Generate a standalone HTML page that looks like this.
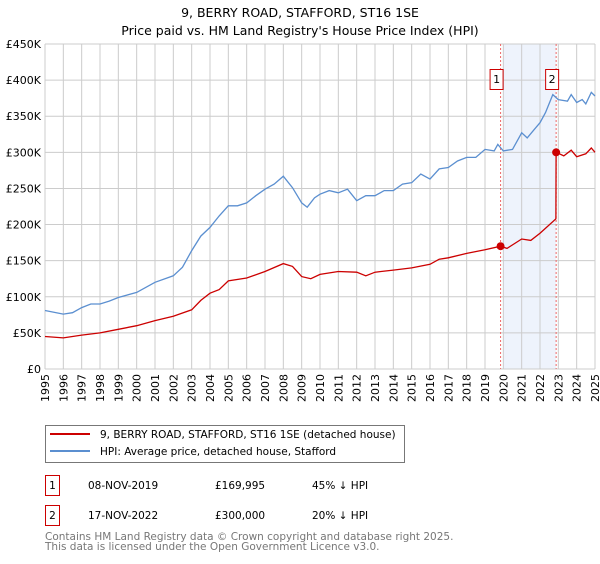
<!DOCTYPE html>
<html><head><meta charset="utf-8"><style>
body{margin:0;background:#fff;font-family:"DejaVu Sans","Liberation Sans",sans-serif;}
svg text{font-family:"DejaVu Sans","Liberation Sans",sans-serif;}
</style></head><body>
<svg width="600" height="560" viewBox="0 0 600 560" xmlns="http://www.w3.org/2000/svg">
<text x="300" y="17" text-anchor="middle" font-size="12.5">9, BERRY ROAD, STAFFORD, ST16 1SE</text>
<text x="300" y="35" text-anchor="middle" font-size="12.5">Price paid vs. HM Land Registry's House Price Index (HPI)</text>
<g id="plot"></g>
<g>
<rect x="45.5" y="425.5" width="359" height="37" fill="#fff" stroke="#777"/>
<line x1="50" y1="434" x2="90" y2="434" stroke="#cc0000" stroke-width="2"/>
<text x="100" y="438" font-size="10.5">9, BERRY ROAD, STAFFORD, ST16 1SE (detached house)</text>
<line x1="50" y1="451" x2="90" y2="451" stroke="#5b8fd0" stroke-width="2"/>
<text x="100" y="455" font-size="10.5">HPI: Average price, detached house, Stafford</text>
</g>
<g font-size="10.5">
<rect x="45.5" y="475.5" width="14" height="20" fill="#fff" stroke="#cc0000"/>
<text x="52.5" y="489" text-anchor="middle">1</text>
<text x="88" y="489">08-NOV-2019</text>
<text x="215" y="489">£169,995</text>
<text x="312" y="489">45% ↓ HPI</text>
<rect x="45.5" y="505.5" width="14" height="20" fill="#fff" stroke="#cc0000"/>
<text x="52.5" y="519" text-anchor="middle">2</text>
<text x="88" y="519">17-NOV-2022</text>
<text x="215" y="519">£300,000</text>
<text x="312" y="519">20% ↓ HPI</text>
</g>
<text x="45" y="540" font-size="10.5" fill="#777">Contains HM Land Registry data © Crown copyright and database right 2025.</text>
<text x="45" y="550" font-size="10.5" fill="#777">This data is licensed under the Open Government Licence v3.0.</text>
</svg>
<script>
const yTicks=[0,50,100,150,200,250,300,350,400,450];
const yTickLabels=["£0","£50K","£100K","£150K","£200K","£250K","£300K","£350K","£400K","£450K"];
const xYears=[1995,1996,1997,1998,1999,2000,2001,2002,2003,2004,2005,2006,2007,2008,2009,2010,2011,2012,2013,2014,2015,2016,2017,2018,2019,2020,2021,2022,2023,2024,2025];
const hpiT=[1995,1996,1996.5,1997,1997.5,1998,1998.5,1999,2000,2001,2002,2002.5,2003,2003.5,2004,2004.5,2005,2005.5,2006,2006.5,2007,2007.5,2008,2008.5,2009,2009.3,2009.7,2010,2010.5,2011,2011.5,2012,2012.5,2013,2013.5,2014,2014.5,2015,2015.5,2016,2016.5,2017,2017.5,2018,2018.5,2019,2019.5,2019.7,2020,2020.5,2021,2021.3,2021.7,2022,2022.3,2022.7,2023,2023.5,2023.7,2024,2024.3,2024.5,2024.8,2025];
const hpiV=[81,76,78,85,90,90,94,99,106,120,129,141,164,184,196,212,226,226,230,240,249,256,267,251,230,224,237,242,247,244,249,233,240,240,247,247,256,258,270,263,277,279,288,293,293,304,302,311,302,304,327,320,332,341,355,380,373,371,380,369,373,367,383,378];
const priceT=[1995,1996,1997,1998,1999,2000,2001,2002,2003,2003.5,2004,2004.5,2005,2006,2007,2008,2008.5,2009,2009.5,2010,2011,2012,2012.5,2013,2014,2015,2016,2016.5,2017,2018,2019,2019.85,2020.2,2021,2021.5,2022,2022.87,2022.88,2023.3,2023.7,2024,2024.5,2024.8,2025];
const priceV=[45,43,47,50,55,60,67,73,82,95,105,110,122,126,135,146,142,128,125,131,135,134,129,134,137,140,145,152,154,160,165,170,167,180,178,188,208,300,295,303,294,298,306,300];
const saleT=[2019.85,2022.88];
const saleV=[169.995,300];
const saleLabels=["1","2"];
const X0=45,X1=595,Y0=369,Y1=44;
const xs=t=>X0+(t-1995)*(X1-X0)/30;
const ys=v=>Y0-v*(Y0-Y1)/450;
const NS="http://www.w3.org/2000/svg";
const g=document.getElementById('plot');
function mk(tag,attrs,parent){const e=document.createElementNS(NS,tag);for(const k in attrs)e.setAttribute(k,attrs[k]);(parent||g).appendChild(e);return e;}
let e=mk('rect',{x:xs(2020),y:Y1,width:xs(saleT[1])-xs(2020),height:Y0-Y1,fill:'#eef3fc'});


xYears.forEach(yr=>{
 const l=mk('line',{x1:xs(yr),x2:xs(yr),y1:Y1,y2:Y0,stroke:'#ccc','stroke-width':1});
 
 
 const gg=mk('g',{transform:'translate('+(xs(yr)+4)+','+(Y0+5)+') rotate(-90)'});
 const t=mk('text',{x:0,y:0,'font-size':11,'text-anchor':'end'},gg);
 t.textContent=yr;
 
 
});
yTicks.forEach((v,i)=>{
 const l=mk('line',{x1:X0,x2:X1,y1:ys(v),y2:ys(v),stroke:'#ccc','stroke-width':1});
 
 
 const t=mk('text',{x:X0-4,y:ys(v)+4,'font-size':11,'text-anchor':'end'});
 t.textContent=yTickLabels[i];
 
 
});
saleT.forEach((t,i)=>{
 const l=mk('line',{x1:xs(t),x2:xs(t),y1:Y1,y2:Y0,stroke:'#e66','stroke-width':1,'stroke-dasharray':'2,2'});
 
 
});
const pts=(T,V)=>T.map((t,i)=>xs(t).toFixed(1)+','+ys(V[i]).toFixed(1)).join(' ');
e=mk('polyline',{points:pts(hpiT,hpiV),fill:'none',stroke:'#5b8fd0','stroke-width':1.3});


e=mk('polyline',{points:pts(priceT,priceV),fill:'none',stroke:'#cc0000','stroke-width':1.3});


saleT.forEach((t,i)=>{
 const c=mk('circle',{cx:xs(t),cy:ys(saleV[i]),r:4,fill:'#cc0000'});
 
 
 const r=mk('rect',{x:xs(t)-10.5,y:69.5,width:13,height:20,fill:'#fff',stroke:'#cc0000'});
 
 
 const tx=mk('text',{x:xs(t)-4,y:83,'font-size':11,'text-anchor':'middle'});
 tx.textContent=saleLabels[i];
 
 
});
</script>
</body></html>
